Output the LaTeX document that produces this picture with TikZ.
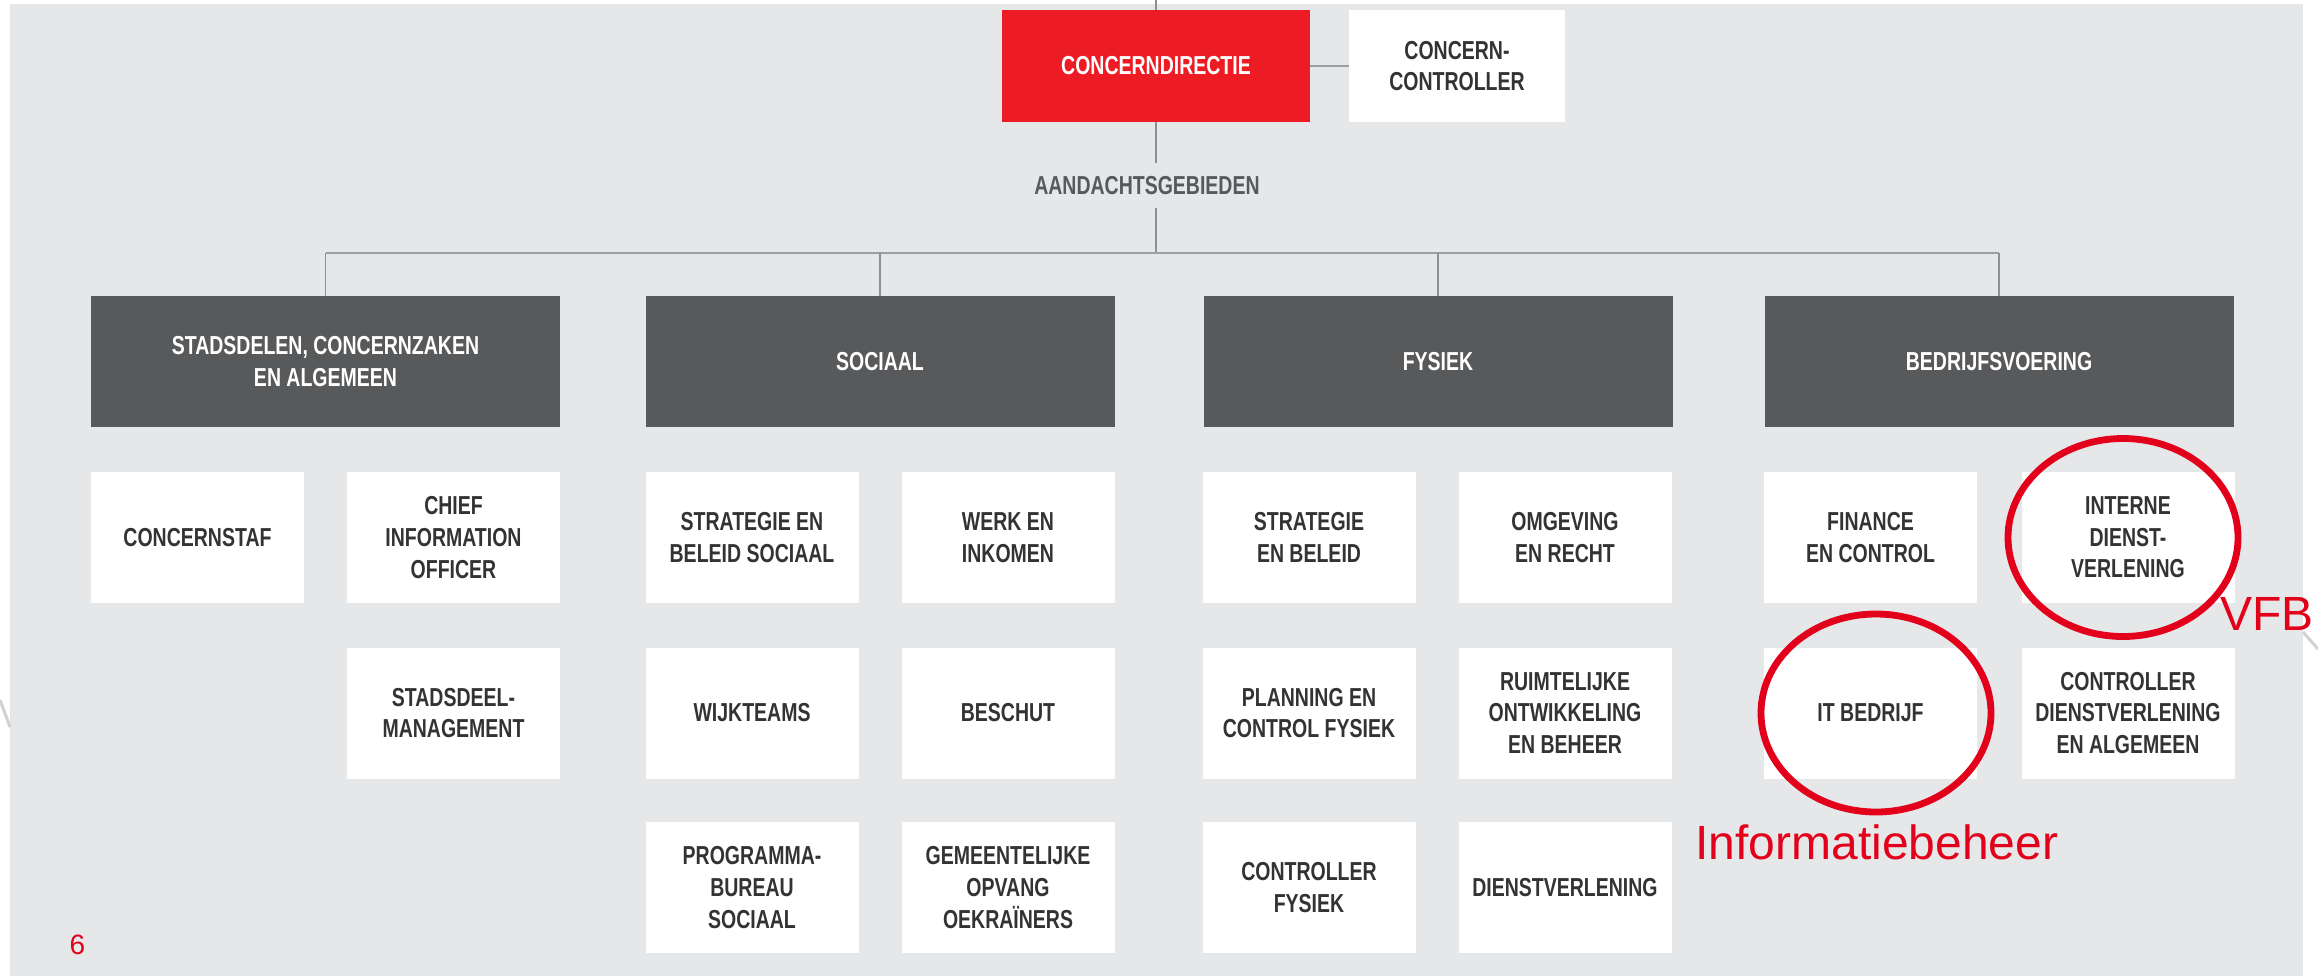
\documentclass[tikz,border=0pt]{standalone}
\usepackage{fontspec}
\setmainfont{Liberation Sans}
\newfontfamily\orgfont[FakeStretch=0.75]{Liberation Sans}
\usepackage{xcolor}
\usepackage{tikz}

\definecolor{bggray}{HTML}{E6E7E8}
\definecolor{boxred}{HTML}{ED1C24}
\definecolor{boxdark}{HTML}{58595B}
\definecolor{textdark}{HTML}{333335}
\definecolor{linegray}{HTML}{8E8F92}
\definecolor{busgray}{HTML}{9D9FA2}
\definecolor{markred}{HTML}{E3001B}

\begin{document}
\begin{tikzpicture}[x=0.5pt,y=-0.5pt]
\tikzstyle{every node}+=[inner sep=0pt, align=center, font=\orgfont\bfseries\fontsize{13}{15.8}\selectfont]
\tikzstyle{head}=[fill=boxdark, text=white, minimum width=234.5pt, minimum height=65.5pt]
\tikzstyle{unit}=[fill=white, text=textdark, minimum width=106.5pt, minimum height=65.5pt]
\tikzstyle{link}=[draw=linegray, line width=0.8pt]
\tikzstyle{busline}=[draw=busgray, line width=1.3pt]
\tikzstyle{ring}=[draw=markred, line width=3.4pt]
\tikzstyle{note}=[text=markred, font=\fontsize{24}{28}\selectfont]
\useasboundingbox (0,0) rectangle (2318,976);
\fill [white] (0,0) rectangle (2318,976);
\fill [bggray] (10,4) rectangle (2303,976);
\draw [black!18, line width=1.5pt] (0,700) -- (10,727);
\draw [black!18, line width=1.5pt] (2303,632) -- (2318,649);
% top
\coordinate (top) at (1156,0);
\node [fill=boxred, text=white, minimum width=154pt, minimum height=56pt] (dir) at (1156,66) {CONCERNDIRECTIE};
\node [unit, minimum width=108pt, minimum height=56pt] (cctrl) at (1457,66) {CONCERN-\\CONTROLLER};
\draw [link] (top) -- (dir.north);
\draw [busline] (dir) -- (cctrl);
\node [text=boxdark, minimum height=22.5pt] (aand) at (1147,185.5) {AANDACHTSGEBIEDEN};
\coordinate (bus) at (1156,253);
\draw [link] (dir.south) -- (dir |- aand.north);
\draw [link] (dir |- aand.south) -- (bus);
% aandachtsgebieden
\node [head] (stad) at (325.5,361.5) {STADSDELEN, CONCERNZAKEN\\EN ALGEMEEN};
\node [head] (soc) at (880,361.5) {SOCIAAL};
\node [head] (fys) at (1438,361.5) {FYSIEK};
\node [head] (bedr) at (1999,361.5) {BEDRIJFSVOERING};
\draw [busline] (stad.north |- bus) -- (bedr.north |- bus);
\foreach \h in {stad,soc,fys,bedr}
  \draw [link] (\h.north |- bus) -- (\h.north);
% stadsdelen
\node [unit] (cstaf) at (197.5,537.5) {CONCERNSTAF};
\node [unit] (cio) at (453.5,537.5) {CHIEF\\INFORMATION\\OFFICER};
\node [unit] (sdm) at (453.5,713) {STADSDEEL-\\MANAGEMENT};
% sociaal
\node [unit] (sbs) at (752,537.5) {STRATEGIE EN\\BELEID SOCIAAL};
\node [unit] (wei) at (1008,537.5) {WERK EN\\INKOMEN};
\node [unit] (wijk) at (752,713) {WIJKTEAMS};
\node [unit] (besch) at (1008,713) {BESCHUT};
\node [unit] (pbs) at (752,887.5) {PROGRAMMA-\\BUREAU\\SOCIAAL};
\node [unit] (gemo) at (1008,887.5) {GEMEENTELIJKE\\OPVANG\\OEKRAÏNERS};
% fysiek
\node [unit] (seb) at (1309,537.5) {STRATEGIE\\EN BELEID};
\node [unit] (oer) at (1565,537.5) {OMGEVING\\EN RECHT};
\node [unit] (pcf) at (1309,713) {PLANNING EN\\CONTROL FYSIEK};
\node [unit] (roeb) at (1565,713) {RUIMTELIJKE\\ONTWIKKELING\\EN BEHEER};
\node [unit] (cfys) at (1309,887.5) {CONTROLLER\\FYSIEK};
\node [unit] (dvl) at (1565,887.5) {DIENSTVERLENING};
% bedrijfsvoering
\node [unit] (fec) at (1870.5,537.5) {FINANCE\\EN CONTROL};
\node [unit] (idv) at (2128,537.5) {INTERNE\\DIENST-\\VERLENING};
\node [unit] (itb) at (1870.5,713) {IT BEDRIJF};
\node [unit] (cdva) at (2128,713) {CONTROLLER\\DIENSTVERLENING\\EN ALGEMEEN};
% annotaties
\draw [ring] ([xshift=-2.5pt]idv.center) ellipse [x radius=57.5pt, y radius=49.5pt];
\draw [ring] ([xshift=2.75pt]itb.center) ellipse [x radius=57.5pt, y radius=49.5pt];
\node [note, anchor=base west] (vfb) at (2220,630) {VFB};
\node [note, anchor=base west] (infob) at (1695,859) {Informatiebeheer};
\node [note, font=\fontsize{14}{16}\selectfont] (pnum) at (77.5,944.5) {6};
\end{tikzpicture}
\end{document}
